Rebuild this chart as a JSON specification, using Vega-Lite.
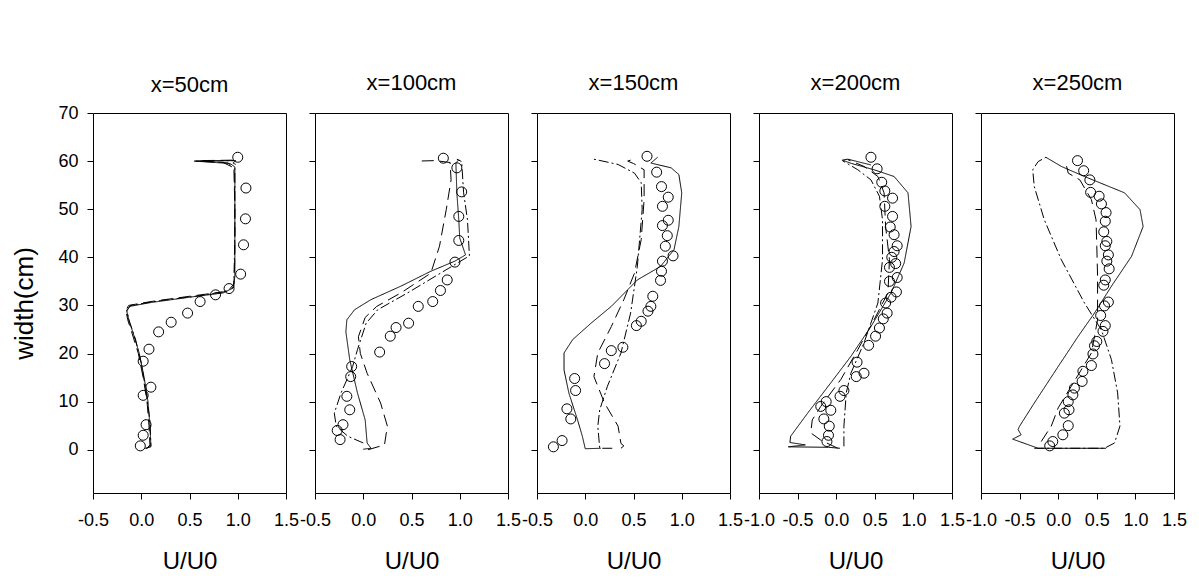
{
"$schema":"https://vega.github.io/schema/vega-lite/v6.json",
"autosize":"none",
"padding":{"left":93,"top":113,"right":1106,"bottom":468},
"background":"white",
"config":{"font":"Liberation Sans","view":{"stroke":"black","strokeWidth":1},
 "axis":{"grid":false,"domain":false,"tickColor":"black","tickSize":6,"labelColor":"black","titleColor":"black","labelFontSize":18,"titleFontSize":24,"titleFontWeight":"normal","labelFlush":false,"labelOverlap":false,"labelBound":false},
 "title":{"fontSize":22,"fontWeight":"normal","color":"black","offset":18}},
"datasets":{
"lines":[
{"p":50,"s":"solid","i":1,"u":0.05,"w":0.2},{"p":50,"s":"solid","i":2,"u":0.10,"w":0.8},{"p":50,"s":"solid","i":3,"u":0.09,"w":5},{"p":50,"s":"solid","i":4,"u":0.07,"w":10},{"p":50,"s":"solid","i":5,"u":0.03,"w":15},{"p":50,"s":"solid","i":6,"u":-0.02,"w":20},{"p":50,"s":"solid","i":7,"u":-0.08,"w":24},{"p":50,"s":"solid","i":8,"u":-0.13,"w":27},{"p":50,"s":"solid","i":9,"u":-0.15,"w":28.8},{"p":50,"s":"solid","i":10,"u":-0.12,"w":29.8},{"p":50,"s":"solid","i":11,"u":0.1,"w":30.6},{"p":50,"s":"solid","i":12,"u":0.5,"w":31.7},{"p":50,"s":"solid","i":13,"u":0.85,"w":32.6},{"p":50,"s":"solid","i":14,"u":0.95,"w":33.6},{"p":50,"s":"solid","i":15,"u":0.97,"w":36},{"p":50,"s":"solid","i":16,"u":0.97,"w":45},{"p":50,"s":"solid","i":17,"u":0.97,"w":55},{"p":50,"s":"solid","i":18,"u":0.97,"w":58.8},{"p":50,"s":"solid","i":19,"u":0.92,"w":59.5},{"p":50,"s":"solid","i":20,"u":0.55,"w":60.0},{"p":50,"s":"solid","i":21,"u":0.98,"w":60.1},{"p":50,"s":"solid","i":22,"u":0.95,"w":59.6},{"p":50,"s":"solid","i":23,"u":0.98,"w":59.3},
{"p":50,"s":"dash","i":1,"u":0.06,"w":0.3},{"p":50,"s":"dash","i":2,"u":0.09,"w":1},{"p":50,"s":"dash","i":3,"u":0.08,"w":5},{"p":50,"s":"dash","i":4,"u":0.06,"w":10},{"p":50,"s":"dash","i":5,"u":0.02,"w":15},{"p":50,"s":"dash","i":6,"u":-0.03,"w":20},{"p":50,"s":"dash","i":7,"u":-0.1,"w":24.5},{"p":50,"s":"dash","i":8,"u":-0.14,"w":27},{"p":50,"s":"dash","i":9,"u":-0.16,"w":29},{"p":50,"s":"dash","i":10,"u":-0.13,"w":30},{"p":50,"s":"dash","i":11,"u":0.1,"w":30.8},{"p":50,"s":"dash","i":12,"u":0.5,"w":31.9},{"p":50,"s":"dash","i":13,"u":0.85,"w":32.8},{"p":50,"s":"dash","i":14,"u":0.96,"w":33.8},{"p":50,"s":"dash","i":15,"u":0.97,"w":40},{"p":50,"s":"dash","i":16,"u":0.97,"w":50},{"p":50,"s":"dash","i":17,"u":0.96,"w":58.6},{"p":50,"s":"dash","i":18,"u":0.9,"w":59.6},{"p":50,"s":"dash","i":19,"u":0.6,"w":60.1},{"p":50,"s":"dash","i":20,"u":0.97,"w":60.2},
{"p":50,"s":"dashdot","i":1,"u":0.04,"w":0.3},{"p":50,"s":"dashdot","i":2,"u":0.1,"w":0.6},{"p":50,"s":"dashdot","i":3,"u":0.09,"w":6},{"p":50,"s":"dashdot","i":4,"u":0.05,"w":12},{"p":50,"s":"dashdot","i":5,"u":0.0,"w":18},{"p":50,"s":"dashdot","i":6,"u":-0.06,"w":23},{"p":50,"s":"dashdot","i":7,"u":-0.12,"w":26.5},{"p":50,"s":"dashdot","i":8,"u":-0.15,"w":29},{"p":50,"s":"dashdot","i":9,"u":-0.11,"w":30},{"p":50,"s":"dashdot","i":10,"u":0.2,"w":31},{"p":50,"s":"dashdot","i":11,"u":0.6,"w":32},{"p":50,"s":"dashdot","i":12,"u":0.9,"w":33},{"p":50,"s":"dashdot","i":13,"u":0.96,"w":34.5},{"p":50,"s":"dashdot","i":14,"u":0.97,"w":45},{"p":50,"s":"dashdot","i":15,"u":0.97,"w":58.5},{"p":50,"s":"dashdot","i":16,"u":0.85,"w":59.7},{"p":50,"s":"dashdot","i":17,"u":0.57,"w":60},{"p":50,"s":"dashdot","i":18,"u":0.96,"w":60.1},

{"p":100,"s":"solid","i":1,"u":0.0,"w":0.1},{"p":100,"s":"solid","i":2,"u":0.08,"w":0.3},{"p":100,"s":"solid","i":3,"u":0.04,"w":1.4},{"p":100,"s":"solid","i":4,"u":0.02,"w":6.2},{"p":100,"s":"solid","i":5,"u":-0.06,"w":11.8},{"p":100,"s":"solid","i":6,"u":-0.14,"w":18.7},{"p":100,"s":"solid","i":7,"u":-0.18,"w":24.5},{"p":100,"s":"solid","i":8,"u":-0.17,"w":27},{"p":100,"s":"solid","i":9,"u":-0.09,"w":29.1},{"p":100,"s":"solid","i":10,"u":0.08,"w":31.2},{"p":100,"s":"solid","i":11,"u":0.39,"w":34},{"p":100,"s":"solid","i":12,"u":0.7,"w":37.1},{"p":100,"s":"solid","i":13,"u":0.95,"w":39.2},{"p":100,"s":"solid","i":14,"u":1.06,"w":40.5},{"p":100,"s":"solid","i":15,"u":1.0,"w":44},{"p":100,"s":"solid","i":16,"u":0.99,"w":47.8},{"p":100,"s":"solid","i":17,"u":0.97,"w":53.4},{"p":100,"s":"solid","i":18,"u":0.96,"w":59.6},{"p":100,"s":"solid","i":19,"u":0.99,"w":60.3},
{"p":100,"s":"dash","i":1,"u":0.05,"w":0.0},{"p":100,"s":"dash","i":2,"u":0.22,"w":1},{"p":100,"s":"dash","i":3,"u":0.25,"w":4.9},{"p":100,"s":"dash","i":4,"u":0.18,"w":9.7},{"p":100,"s":"dash","i":5,"u":0.04,"w":15.9},{"p":100,"s":"dash","i":6,"u":-0.03,"w":20},{"p":100,"s":"dash","i":7,"u":-0.05,"w":23.5},{"p":100,"s":"dash","i":8,"u":0.02,"w":27.5},{"p":100,"s":"dash","i":9,"u":0.14,"w":29.8},{"p":100,"s":"dash","i":10,"u":0.39,"w":32.6},{"p":100,"s":"dash","i":11,"u":0.7,"w":36.7},{"p":100,"s":"dash","i":12,"u":0.79,"w":42.3},{"p":100,"s":"dash","i":13,"u":0.86,"w":49.9},{"p":100,"s":"dash","i":14,"u":0.91,"w":56.1},{"p":100,"s":"dash","i":15,"u":0.9,"w":59.7},{"p":100,"s":"dash","i":16,"u":0.75,"w":60.1},{"p":100,"s":"dash","i":17,"u":0.56,"w":60.0},
{"p":100,"s":"dashdot","i":1,"u":0.0,"w":1.4},{"p":100,"s":"dashdot","i":2,"u":-0.16,"w":2.8},{"p":100,"s":"dashdot","i":3,"u":-0.28,"w":4.9},{"p":100,"s":"dashdot","i":4,"u":-0.30,"w":7.6},{"p":100,"s":"dashdot","i":5,"u":-0.23,"w":11.8},{"p":100,"s":"dashdot","i":6,"u":-0.11,"w":17.3},{"p":100,"s":"dashdot","i":7,"u":-0.06,"w":20.8},{"p":100,"s":"dashdot","i":8,"u":0.03,"w":26.3},{"p":100,"s":"dashdot","i":9,"u":0.15,"w":29.1},{"p":100,"s":"dashdot","i":10,"u":0.46,"w":32.6},{"p":100,"s":"dashdot","i":11,"u":0.8,"w":36.7},{"p":100,"s":"dashdot","i":12,"u":1.1,"w":40.3},{"p":100,"s":"dashdot","i":13,"u":1.08,"w":47.8},{"p":100,"s":"dashdot","i":14,"u":1.04,"w":53.4},{"p":100,"s":"dashdot","i":15,"u":1.02,"w":59.9},{"p":100,"s":"dashdot","i":16,"u":0.97,"w":60.4},

{"p":150,"s":"solid","i":1,"u":0.16,"w":0.3},{"p":150,"s":"solid","i":2,"u":0.0,"w":0.2},{"p":150,"s":"solid","i":3,"u":-0.03,"w":2.8},{"p":150,"s":"solid","i":4,"u":-0.08,"w":6.2},{"p":150,"s":"solid","i":5,"u":-0.17,"w":11.8},{"p":150,"s":"solid","i":6,"u":-0.22,"w":16.6},{"p":150,"s":"solid","i":7,"u":-0.22,"w":20.1},{"p":150,"s":"solid","i":8,"u":-0.13,"w":22.9},{"p":150,"s":"solid","i":9,"u":0.06,"w":26.3},{"p":150,"s":"solid","i":10,"u":0.27,"w":29.8},{"p":150,"s":"solid","i":11,"u":0.54,"w":35.3},{"p":150,"s":"solid","i":12,"u":0.78,"w":38.1},{"p":150,"s":"solid","i":13,"u":0.92,"w":41.6},{"p":150,"s":"solid","i":14,"u":0.97,"w":46.4},{"p":150,"s":"solid","i":15,"u":1.0,"w":53.4},{"p":150,"s":"solid","i":16,"u":0.97,"w":57.2},{"p":150,"s":"solid","i":17,"u":0.89,"w":58.6},{"p":150,"s":"solid","i":18,"u":0.68,"w":59.6},{"p":150,"s":"solid","i":19,"u":0.75,"w":60.8},
{"p":150,"s":"dash","i":1,"u":0.37,"w":0.3},{"p":150,"s":"dash","i":2,"u":0.4,"w":0.8},{"p":150,"s":"dash","i":3,"u":0.37,"w":1.3},{"p":150,"s":"dash","i":4,"u":0.34,"w":4.9},{"p":150,"s":"dash","i":5,"u":0.2,"w":9.7},{"p":150,"s":"dash","i":6,"u":0.09,"w":15.2},{"p":150,"s":"dash","i":7,"u":0.13,"w":20.1},{"p":150,"s":"dash","i":8,"u":0.27,"w":25.6},{"p":150,"s":"dash","i":9,"u":0.4,"w":31.2},{"p":150,"s":"dash","i":10,"u":0.51,"w":36.7},{"p":150,"s":"dash","i":11,"u":0.58,"w":43.7},{"p":150,"s":"dash","i":12,"u":0.61,"w":52},{"p":150,"s":"dash","i":13,"u":0.61,"w":58.2},{"p":150,"s":"dash","i":14,"u":0.5,"w":59.5},{"p":150,"s":"dash","i":15,"u":0.44,"w":60.0},{"p":150,"s":"dash","i":16,"u":0.5,"w":60.4},
{"p":150,"s":"dashdot","i":1,"u":0.28,"w":0.3},{"p":150,"s":"dashdot","i":2,"u":0.15,"w":0.3},{"p":150,"s":"dashdot","i":3,"u":0.13,"w":4.9},{"p":150,"s":"dashdot","i":4,"u":0.15,"w":8.3},{"p":150,"s":"dashdot","i":5,"u":0.23,"w":13.2},{"p":150,"s":"dashdot","i":6,"u":0.37,"w":20.1},{"p":150,"s":"dashdot","i":7,"u":0.47,"w":28.4},{"p":150,"s":"dashdot","i":8,"u":0.54,"w":38.1},{"p":150,"s":"dashdot","i":9,"u":0.59,"w":50},{"p":150,"s":"dashdot","i":10,"u":0.58,"w":55.5},{"p":150,"s":"dashdot","i":11,"u":0.51,"w":57.5},{"p":150,"s":"dashdot","i":12,"u":0.34,"w":59.3},{"p":150,"s":"dashdot","i":13,"u":0.09,"w":60.4},

{"p":200,"s":"solid","i":1,"u":0.05,"w":0.3},{"p":200,"s":"solid","i":2,"u":-0.1,"w":0.5},{"p":200,"s":"solid","i":3,"u":-0.62,"w":0.6},{"p":200,"s":"solid","i":4,"u":-0.4,"w":1.0},{"p":200,"s":"solid","i":5,"u":-0.6,"w":1.5},{"p":200,"s":"solid","i":6,"u":-0.59,"w":2.8},{"p":200,"s":"solid","i":7,"u":-0.37,"w":7.6},{"p":200,"s":"solid","i":8,"u":-0.07,"w":13.9},{"p":200,"s":"solid","i":9,"u":0.19,"w":19.4},{"p":200,"s":"solid","i":10,"u":0.45,"w":25.6},{"p":200,"s":"solid","i":11,"u":0.71,"w":32.6},{"p":200,"s":"solid","i":12,"u":0.88,"w":38.8},{"p":200,"s":"solid","i":13,"u":0.97,"w":46.4},{"p":200,"s":"solid","i":14,"u":0.93,"w":53.4},{"p":200,"s":"solid","i":15,"u":0.75,"w":56.8},{"p":200,"s":"solid","i":16,"u":0.49,"w":58.2},{"p":200,"s":"solid","i":17,"u":0.2,"w":59.5},{"p":200,"s":"solid","i":18,"u":0.08,"w":60.2},{"p":200,"s":"solid","i":19,"u":0.15,"w":60.4},{"p":200,"s":"solid","i":20,"u":0.45,"w":59.2},
{"p":200,"s":"dash","i":1,"u":0.02,"w":0.3},{"p":200,"s":"dash","i":2,"u":-0.2,"w":2},{"p":200,"s":"dash","i":3,"u":-0.33,"w":3.5},{"p":200,"s":"dash","i":4,"u":-0.31,"w":6.2},{"p":200,"s":"dash","i":5,"u":-0.2,"w":9.0},{"p":200,"s":"dash","i":6,"u":0.06,"w":14.6},{"p":200,"s":"dash","i":7,"u":0.28,"w":20.8},{"p":200,"s":"dash","i":8,"u":0.49,"w":27},{"p":200,"s":"dash","i":9,"u":0.67,"w":32.6},{"p":200,"s":"dash","i":10,"u":0.69,"w":39.5},{"p":200,"s":"dash","i":11,"u":0.64,"w":46.4},{"p":200,"s":"dash","i":12,"u":0.62,"w":53.4},{"p":200,"s":"dash","i":13,"u":0.54,"w":56.8},{"p":200,"s":"dash","i":14,"u":0.36,"w":58.9},{"p":200,"s":"dash","i":15,"u":0.15,"w":60.3},
{"p":200,"s":"dashdot","i":1,"u":0.1,"w":0.7},{"p":200,"s":"dashdot","i":2,"u":0.1,"w":4.9},{"p":200,"s":"dashdot","i":3,"u":0.13,"w":11.8},{"p":200,"s":"dashdot","i":4,"u":0.19,"w":15.9},{"p":200,"s":"dashdot","i":5,"u":0.36,"w":22.2},{"p":200,"s":"dashdot","i":6,"u":0.54,"w":30.5},{"p":200,"s":"dashdot","i":7,"u":0.6,"w":39.5},{"p":200,"s":"dashdot","i":8,"u":0.6,"w":47.8},{"p":200,"s":"dashdot","i":9,"u":0.56,"w":52.7},{"p":200,"s":"dashdot","i":10,"u":0.45,"w":56.1},{"p":200,"s":"dashdot","i":11,"u":0.28,"w":58.2},{"p":200,"s":"dashdot","i":12,"u":0.08,"w":60.1},

{"p":250,"s":"solid","i":1,"u":0.62,"w":0.3},{"p":250,"s":"solid","i":2,"u":-0.26,"w":0.3},{"p":250,"s":"solid","i":3,"u":-0.59,"w":2.2},{"p":250,"s":"solid","i":4,"u":-0.48,"w":3.1},{"p":250,"s":"solid","i":5,"u":-0.52,"w":4.2},{"p":250,"s":"solid","i":6,"u":-0.5,"w":4.9},{"p":250,"s":"solid","i":7,"u":-0.31,"w":9.7},{"p":250,"s":"solid","i":8,"u":0.0,"w":17.3},{"p":250,"s":"solid","i":9,"u":0.26,"w":23.6},{"p":250,"s":"solid","i":10,"u":0.47,"w":28.4},{"p":250,"s":"solid","i":11,"u":0.69,"w":34.0},{"p":250,"s":"solid","i":12,"u":0.95,"w":40.2},{"p":250,"s":"solid","i":13,"u":1.1,"w":46.4},{"p":250,"s":"solid","i":14,"u":1.06,"w":49.9},{"p":250,"s":"solid","i":15,"u":0.86,"w":53.4},{"p":250,"s":"solid","i":16,"u":0.34,"w":56.8},{"p":250,"s":"solid","i":17,"u":0.04,"w":58.9},{"p":250,"s":"solid","i":18,"u":-0.16,"w":60.8},
{"p":250,"s":"dash","i":1,"u":-0.22,"w":1.7},{"p":250,"s":"dash","i":2,"u":-0.09,"w":4.9},{"p":250,"s":"dash","i":3,"u":0.0,"w":8.7},{"p":250,"s":"dash","i":4,"u":0.17,"w":13.2},{"p":250,"s":"dash","i":5,"u":0.43,"w":20.1},{"p":250,"s":"dash","i":6,"u":0.51,"w":27},{"p":250,"s":"dash","i":7,"u":0.51,"w":36},{"p":250,"s":"dash","i":8,"u":0.5,"w":42.3},{"p":250,"s":"dash","i":9,"u":0.49,"w":47.8},{"p":250,"s":"dash","i":10,"u":0.43,"w":52},{"p":250,"s":"dash","i":11,"u":0.28,"w":56.1},{"p":250,"s":"dash","i":12,"u":0.13,"w":57.5},{"p":250,"s":"dash","i":13,"u":0.1,"w":59.5},
{"p":250,"s":"dashdot","i":1,"u":-0.31,"w":0.3},{"p":250,"s":"dashdot","i":2,"u":0.6,"w":0.3},{"p":250,"s":"dashdot","i":3,"u":0.73,"w":1.4},{"p":250,"s":"dashdot","i":4,"u":0.8,"w":4.9},{"p":250,"s":"dashdot","i":5,"u":0.77,"w":11.8},{"p":250,"s":"dashdot","i":6,"u":0.69,"w":18.7},{"p":250,"s":"dashdot","i":7,"u":0.56,"w":24.9},{"p":250,"s":"dashdot","i":8,"u":0.34,"w":30.5},{"p":250,"s":"dashdot","i":9,"u":0.04,"w":39.5},{"p":250,"s":"dashdot","i":10,"u":-0.18,"w":47.8},{"p":250,"s":"dashdot","i":11,"u":-0.31,"w":54.7},{"p":250,"s":"dashdot","i":12,"u":-0.33,"w":58.2},{"p":250,"s":"dashdot","i":13,"u":-0.26,"w":59.9},{"p":250,"s":"dashdot","i":14,"u":-0.16,"w":60.8}
],
"pts":[
{"p":50,"u":1.0,"w":60.8},{"p":50,"u":1.085,"w":54.4},{"p":50,"u":1.08,"w":48.0},{"p":50,"u":1.06,"w":42.6},{"p":50,"u":1.03,"w":36.5},{"p":50,"u":0.91,"w":33.5},{"p":50,"u":0.77,"w":32.2},{"p":50,"u":0.61,"w":30.8},{"p":50,"u":0.48,"w":28.4},{"p":50,"u":0.31,"w":26.5},{"p":50,"u":0.18,"w":24.5},{"p":50,"u":0.08,"w":20.9},{"p":50,"u":0.02,"w":18.4},{"p":50,"u":0.10,"w":13.0},{"p":50,"u":0.02,"w":11.3},{"p":50,"u":0.05,"w":5.2},{"p":50,"u":0.02,"w":3.0},{"p":50,"u":-0.01,"w":0.8},
{"p":100,"u":0.83,"w":60.6},{"p":100,"u":0.97,"w":58.6},{"p":100,"u":1.02,"w":53.6},{"p":100,"u":0.99,"w":48.5},{"p":100,"u":0.99,"w":43.5},{"p":100,"u":0.95,"w":39.0},{"p":100,"u":0.87,"w":35.3},{"p":100,"u":0.80,"w":33.1},{"p":100,"u":0.72,"w":30.8},{"p":100,"u":0.57,"w":29.8},{"p":100,"u":0.47,"w":26.3},{"p":100,"u":0.34,"w":25.4},{"p":100,"u":0.28,"w":23.6},{"p":100,"u":0.17,"w":20.3},{"p":100,"u":-0.12,"w":17.3},{"p":100,"u":-0.13,"w":15.2},{"p":100,"u":-0.17,"w":11.1},{"p":100,"u":-0.14,"w":8.3},{"p":100,"u":-0.21,"w":5.2},{"p":100,"u":-0.27,"w":4.0},{"p":100,"u":-0.24,"w":2.1},
{"p":150,"u":0.64,"w":61.0},{"p":150,"u":0.74,"w":57.7},{"p":150,"u":0.79,"w":54.7},{"p":150,"u":0.86,"w":52.5},{"p":150,"u":0.80,"w":50.6},{"p":150,"u":0.86,"w":47.7},{"p":150,"u":0.80,"w":46.6},{"p":150,"u":0.85,"w":44.5},{"p":150,"u":0.83,"w":42.3},{"p":150,"u":0.91,"w":40.3},{"p":150,"u":0.80,"w":39.2},{"p":150,"u":0.79,"w":37.1},{"p":150,"u":0.78,"w":35.2},{"p":150,"u":0.70,"w":31.9},{"p":150,"u":0.68,"w":29.8},{"p":150,"u":0.65,"w":28.8},{"p":150,"u":0.58,"w":26.7},{"p":150,"u":0.53,"w":25.8},{"p":150,"u":0.39,"w":21.3},{"p":150,"u":0.27,"w":20.6},{"p":150,"u":0.20,"w":17.9},{"p":150,"u":-0.11,"w":14.8},{"p":150,"u":-0.10,"w":12.3},{"p":150,"u":-0.19,"w":8.5},{"p":150,"u":-0.15,"w":6.4},{"p":150,"u":-0.24,"w":1.9},{"p":150,"u":-0.33,"w":0.6},
{"p":200,"u":0.45,"w":60.8},{"p":200,"u":0.53,"w":58.4},{"p":200,"u":0.59,"w":55.6},{"p":200,"u":0.63,"w":53.8},{"p":200,"u":0.73,"w":52.3},{"p":200,"u":0.63,"w":50.6},{"p":200,"u":0.73,"w":48.5},{"p":200,"u":0.70,"w":46.3},{"p":200,"u":0.75,"w":44.7},{"p":200,"u":0.79,"w":42.4},{"p":200,"u":0.75,"w":41.2},{"p":200,"u":0.72,"w":40.0},{"p":200,"u":0.77,"w":38.7},{"p":200,"u":0.69,"w":37.9},{"p":200,"u":0.79,"w":35.8},{"p":200,"u":0.69,"w":35.0},{"p":200,"u":0.78,"w":32.8},{"p":200,"u":0.71,"w":31.7},{"p":200,"u":0.64,"w":30.5},{"p":200,"u":0.66,"w":28.4},{"p":200,"u":0.61,"w":27.2},{"p":200,"u":0.56,"w":25.3},{"p":200,"u":0.51,"w":23.6},{"p":200,"u":0.42,"w":21.7},{"p":200,"u":0.27,"w":18.2},{"p":200,"u":0.36,"w":15.9},{"p":200,"u":0.26,"w":15.2},{"p":200,"u":0.10,"w":12.3},{"p":200,"u":0.05,"w":11.1},{"p":200,"u":-0.13,"w":10.0},{"p":200,"u":-0.20,"w":9.0},{"p":200,"u":-0.07,"w":8.2},{"p":200,"u":-0.16,"w":6.4},{"p":200,"u":-0.09,"w":4.9},{"p":200,"u":-0.10,"w":3.0},{"p":200,"u":-0.12,"w":1.7},
{"p":250,"u":0.25,"w":60.1},{"p":250,"u":0.33,"w":58.0},{"p":250,"u":0.41,"w":56.1},{"p":250,"u":0.42,"w":53.5},{"p":250,"u":0.53,"w":52.7},{"p":250,"u":0.56,"w":51.1},{"p":250,"u":0.62,"w":49.3},{"p":250,"u":0.61,"w":47.5},{"p":250,"u":0.59,"w":45.3},{"p":250,"u":0.63,"w":43.3},{"p":250,"u":0.61,"w":42.4},{"p":250,"u":0.65,"w":40.5},{"p":250,"u":0.63,"w":39.2},{"p":250,"u":0.66,"w":37.6},{"p":250,"u":0.61,"w":35.3},{"p":250,"u":0.59,"w":34.2},{"p":250,"u":0.65,"w":30.7},{"p":250,"u":0.60,"w":29.9},{"p":250,"u":0.55,"w":27.9},{"p":250,"u":0.61,"w":25.8},{"p":250,"u":0.58,"w":24.6},{"p":250,"u":0.50,"w":22.5},{"p":250,"u":0.47,"w":21.6},{"p":250,"u":0.45,"w":19.9},{"p":250,"u":0.43,"w":17.5},{"p":250,"u":0.32,"w":16.3},{"p":250,"u":0.31,"w":14.2},{"p":250,"u":0.21,"w":12.8},{"p":250,"u":0.19,"w":11.4},{"p":250,"u":0.13,"w":10.0},{"p":250,"u":0.14,"w":8.3},{"p":250,"u":0.08,"w":7.6},{"p":250,"u":0.13,"w":5.0},{"p":250,"u":0.06,"w":3.1},{"p":250,"u":-0.07,"w":1.7},{"p":250,"u":-0.11,"w":0.8}
]},
"hconcat":[
{"width":193,"height":380,"title":{"text":"x=50cm","offset":7},
 "encoding":{
  "x":{"field":"u","type":"quantitative","scale":{"domain":[-0.5,1.5]},"axis":{"values":[-0.5,0,0.5,1,1.5],"labelExpr":"replace(format(datum.value,'.1f'),'\u2212','-')","title":"U/U0","titlePadding":20,"labelPadding":12,"labelOverlap":false}},
  "y":{"field":"w","type":"quantitative","scale":{"domain":[-9,70]},"axis":{"values":[0,10,20,30,40,50,60,70],"title":"width(cm)","titleFontSize":26,"titlePadding":20,"labelPadding":9}}},
 "layer":[
 {"data":{"name":"lines"},"transform":[{"filter":"datum.p==50"}],"mark":{"type":"line","color":"black","strokeWidth":1},"encoding":{
  "order":{"field":"i","type":"quantitative"},
  "strokeDash":{"field":"s","type":"nominal","scale":{"domain":["solid","dash","dashdot"],"range":[[1,0],[12,6],[10,3,2,3]]},"legend":null}}},
 {"data":{"name":"pts"},"transform":[{"filter":"datum.p==50"}],"mark":{"type":"point","shape":"circle","filled":false,"color":"black","strokeWidth":1,"size":100,"opacity":1}}
]},
{"width":193,"height":380,"title":"x=100cm",
 "encoding":{
  "x":{"field":"u","type":"quantitative","scale":{"domain":[-0.5,1.5]},"axis":{"values":[-0.5,0,0.5,1,1.5],"labelExpr":"replace(format(datum.value,'.1f'),'\u2212','-')","title":"U/U0","titlePadding":20,"labelPadding":12,"labelOverlap":false}},
  "y":{"field":"w","type":"quantitative","scale":{"domain":[-9,70]},"axis":{"values":[0,10,20,30,40,50,60,70],"title":null,"labels":false}}},
 "layer":[
 {"data":{"name":"lines"},"transform":[{"filter":"datum.p==100"}],"mark":{"type":"line","color":"black","strokeWidth":1},"encoding":{
  "order":{"field":"i","type":"quantitative"},
  "strokeDash":{"field":"s","type":"nominal","scale":{"domain":["solid","dash","dashdot"],"range":[[1,0],[12,6],[10,3,2,3]]},"legend":null}}},
 {"data":{"name":"pts"},"transform":[{"filter":"datum.p==100"}],"mark":{"type":"point","shape":"circle","filled":false,"color":"black","strokeWidth":1,"size":100,"opacity":1}}
]},
{"width":193,"height":380,"title":"x=150cm",
 "encoding":{
  "x":{"field":"u","type":"quantitative","scale":{"domain":[-0.5,1.5]},"axis":{"values":[-0.5,0,0.5,1,1.5],"labelExpr":"replace(format(datum.value,'.1f'),'\u2212','-')","title":"U/U0","titlePadding":20,"labelPadding":12,"labelOverlap":false}},
  "y":{"field":"w","type":"quantitative","scale":{"domain":[-9,70]},"axis":{"values":[0,10,20,30,40,50,60,70],"title":null,"labels":false}}},
 "layer":[
 {"data":{"name":"lines"},"transform":[{"filter":"datum.p==150"}],"mark":{"type":"line","color":"black","strokeWidth":1},"encoding":{
  "order":{"field":"i","type":"quantitative"},
  "strokeDash":{"field":"s","type":"nominal","scale":{"domain":["solid","dash","dashdot"],"range":[[1,0],[12,6],[10,3,2,3]]},"legend":null}}},
 {"data":{"name":"pts"},"transform":[{"filter":"datum.p==150"}],"mark":{"type":"point","shape":"circle","filled":false,"color":"black","strokeWidth":1,"size":100,"opacity":1}}
]},
{"width":193,"height":380,"title":"x=200cm",
 "encoding":{
  "x":{"field":"u","type":"quantitative","scale":{"domain":[-1,1.5]},"axis":{"values":[-1,-0.5,0,0.5,1,1.5],"labelExpr":"replace(format(datum.value,'.1f'),'\u2212','-')","title":"U/U0","titlePadding":20,"labelPadding":12,"labelOverlap":false}},
  "y":{"field":"w","type":"quantitative","scale":{"domain":[-9,70]},"axis":{"values":[0,10,20,30,40,50,60,70],"title":null,"labels":false}}},
 "layer":[
 {"data":{"name":"lines"},"transform":[{"filter":"datum.p==200"}],"mark":{"type":"line","color":"black","strokeWidth":1},"encoding":{
  "order":{"field":"i","type":"quantitative"},
  "strokeDash":{"field":"s","type":"nominal","scale":{"domain":["solid","dash","dashdot"],"range":[[1,0],[12,6],[10,3,2,3]]},"legend":null}}},
 {"data":{"name":"pts"},"transform":[{"filter":"datum.p==200"}],"mark":{"type":"point","shape":"circle","filled":false,"color":"black","strokeWidth":1,"size":100,"opacity":1}}
]},
{"width":193,"height":380,"title":"x=250cm",
 "encoding":{
  "x":{"field":"u","type":"quantitative","scale":{"domain":[-1,1.5]},"axis":{"values":[-1,-0.5,0,0.5,1,1.5],"labelExpr":"replace(format(datum.value,'.1f'),'\u2212','-')","title":"U/U0","titlePadding":20,"labelPadding":12,"labelOverlap":false}},
  "y":{"field":"w","type":"quantitative","scale":{"domain":[-9,70]},"axis":{"values":[0,10,20,30,40,50,60,70],"title":null,"labels":false}}},
 "layer":[
 {"data":{"name":"lines"},"transform":[{"filter":"datum.p==250"}],"mark":{"type":"line","color":"black","strokeWidth":1},"encoding":{
  "order":{"field":"i","type":"quantitative"},
  "strokeDash":{"field":"s","type":"nominal","scale":{"domain":["solid","dash","dashdot"],"range":[[1,0],[12,6],[10,3,2,3]]},"legend":null}}},
 {"data":{"name":"pts"},"transform":[{"filter":"datum.p==250"}],"mark":{"type":"point","shape":"circle","filled":false,"color":"black","strokeWidth":1,"size":100,"opacity":1}}
]}
],
"spacing":29,
"bounds":"flush"
}
